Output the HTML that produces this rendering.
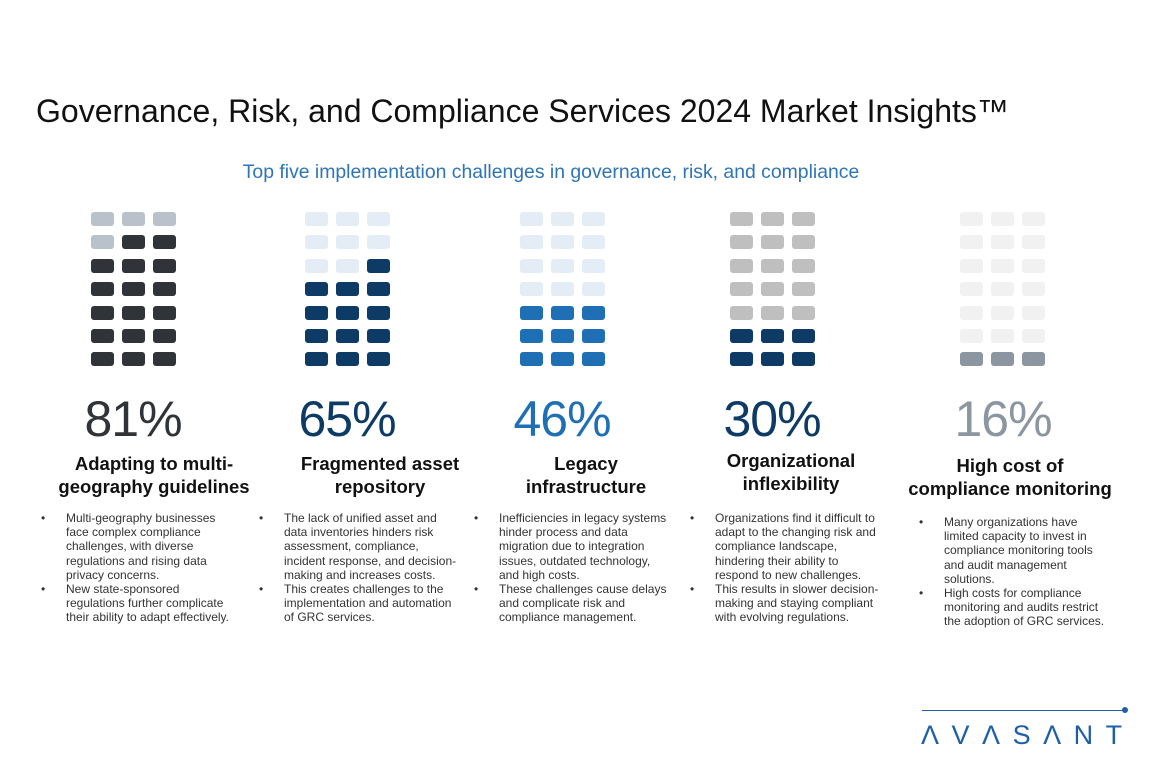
<!DOCTYPE html>
<html><head><meta charset="utf-8"><style>
body{margin:0;width:1152px;height:768px;background:#fff;position:relative;overflow:hidden;font-family:"Liberation Sans",sans-serif;}
.a{position:absolute;}
.g{position:absolute;top:212px;display:grid;grid-template-columns:23px 23px 23px;column-gap:8px;row-gap:9.4px;}
.g span{height:14px;border-radius:3px;display:block;}
.pct{position:absolute;top:390px;width:200px;text-align:center;font-size:50px;font-weight:300;letter-spacing:-1px;}
.tt{position:absolute;width:240px;text-align:center;font-weight:bold;font-size:18.5px;line-height:23px;color:#111;}
.b{position:absolute;font-size:12px;line-height:14.2px;color:#333;white-space:nowrap;}
.b div{position:relative;}
.b div:before{content:"•";position:absolute;left:-25px;}
</style></head><body>
<div class="a" style="left:36px;top:93px;font-size:32px;color:#111;">Governance, Risk, and Compliance Services 2024 Market Insights™</div>
<div class="a" style="left:0;width:1102px;top:161px;text-align:center;font-size:19.4px;color:#2e75b6;">Top five implementation challenges in governance, risk, and compliance</div>

<div class="g" style="left:91px"><span style="background:#b9c2ca"></span><span style="background:#b9c2ca"></span><span style="background:#b9c2ca"></span><span style="background:#b9c2ca"></span>
<span style="background:#303438"></span><span style="background:#303438"></span><span style="background:#303438"></span><span style="background:#303438"></span><span style="background:#303438"></span><span style="background:#303438"></span><span style="background:#303438"></span><span style="background:#303438"></span><span style="background:#303438"></span><span style="background:#303438"></span><span style="background:#303438"></span><span style="background:#303438"></span><span style="background:#303438"></span><span style="background:#303438"></span><span style="background:#303438"></span><span style="background:#303438"></span><span style="background:#303438"></span></div>

<div class="g" style="left:305px"><span style="background:#e4edf6"></span><span style="background:#e4edf6"></span><span style="background:#e4edf6"></span><span style="background:#e4edf6"></span><span style="background:#e4edf6"></span><span style="background:#e4edf6"></span><span style="background:#e4edf6"></span><span style="background:#e4edf6"></span>
<span style="background:#0d3b66"></span><span style="background:#0d3b66"></span><span style="background:#0d3b66"></span><span style="background:#0d3b66"></span><span style="background:#0d3b66"></span><span style="background:#0d3b66"></span><span style="background:#0d3b66"></span><span style="background:#0d3b66"></span><span style="background:#0d3b66"></span><span style="background:#0d3b66"></span><span style="background:#0d3b66"></span><span style="background:#0d3b66"></span><span style="background:#0d3b66"></span></div>

<div class="g" style="left:520px"><span style="background:#e4edf6"></span><span style="background:#e4edf6"></span><span style="background:#e4edf6"></span><span style="background:#e4edf6"></span><span style="background:#e4edf6"></span><span style="background:#e4edf6"></span><span style="background:#e4edf6"></span><span style="background:#e4edf6"></span><span style="background:#e4edf6"></span><span style="background:#e4edf6"></span><span style="background:#e4edf6"></span><span style="background:#e4edf6"></span>
<span style="background:#1f6fb5"></span><span style="background:#1f6fb5"></span><span style="background:#1f6fb5"></span><span style="background:#1f6fb5"></span><span style="background:#1f6fb5"></span><span style="background:#1f6fb5"></span><span style="background:#1f6fb5"></span><span style="background:#1f6fb5"></span><span style="background:#1f6fb5"></span></div>

<div class="g" style="left:730px"><span style="background:#bfbfbf"></span><span style="background:#bfbfbf"></span><span style="background:#bfbfbf"></span><span style="background:#bfbfbf"></span><span style="background:#bfbfbf"></span><span style="background:#bfbfbf"></span><span style="background:#bfbfbf"></span><span style="background:#bfbfbf"></span><span style="background:#bfbfbf"></span><span style="background:#bfbfbf"></span><span style="background:#bfbfbf"></span><span style="background:#bfbfbf"></span><span style="background:#bfbfbf"></span><span style="background:#bfbfbf"></span><span style="background:#bfbfbf"></span>
<span style="background:#0d3b66"></span><span style="background:#0d3b66"></span><span style="background:#0d3b66"></span><span style="background:#0d3b66"></span><span style="background:#0d3b66"></span><span style="background:#0d3b66"></span></div>

<div class="g" style="left:960px"><span style="background:#f1f1f1"></span><span style="background:#f1f1f1"></span><span style="background:#f1f1f1"></span><span style="background:#f1f1f1"></span><span style="background:#f1f1f1"></span><span style="background:#f1f1f1"></span><span style="background:#f1f1f1"></span><span style="background:#f1f1f1"></span><span style="background:#f1f1f1"></span><span style="background:#f1f1f1"></span><span style="background:#f1f1f1"></span><span style="background:#f1f1f1"></span><span style="background:#f1f1f1"></span><span style="background:#f1f1f1"></span><span style="background:#f1f1f1"></span><span style="background:#f1f1f1"></span><span style="background:#f1f1f1"></span><span style="background:#f1f1f1"></span>
<span style="background:#8c96a0"></span><span style="background:#8c96a0"></span><span style="background:#8c96a0"></span></div>

<div class="pct" style="left:33px;color:#303438">81%</div>
<div class="pct" style="left:247px;color:#0d3b66">65%</div>
<div class="pct" style="left:462px;color:#1f6fb5">46%</div>
<div class="pct" style="left:672px;color:#0d3b66">30%</div>
<div class="pct" style="left:903px;color:#8c96a0">16%</div>

<div class="tt" style="left:34px;top:452px">Adapting to multi-<br>geography guidelines</div>
<div class="tt" style="left:260px;top:452px">Fragmented asset<br>repository</div>
<div class="tt" style="left:466px;top:452px">Legacy<br>infrastructure</div>
<div class="tt" style="left:671px;top:449px">Organizational<br>inflexibility</div>
<div class="tt" style="left:890px;top:454px">High cost of<br>compliance monitoring</div>

<div class="b" style="left:66px;top:511px"><div>Multi-geography businesses<br>face complex compliance<br>challenges, with diverse<br>regulations and rising data<br>privacy concerns.</div><div>New state-sponsored<br>regulations further complicate<br>their ability to adapt effectively.</div></div>
<div class="b" style="left:284px;top:511px"><div>The lack of unified asset and<br>data inventories hinders risk<br>assessment, compliance,<br>incident response, and decision-<br>making and increases costs.</div><div>This creates challenges to the<br>implementation and automation<br>of GRC services.</div></div>
<div class="b" style="left:499px;top:511px"><div>Inefficiencies in legacy systems<br>hinder process and data<br>migration due to integration<br>issues, outdated technology,<br>and high costs.</div><div>These challenges cause delays<br>and complicate risk and<br>compliance management.</div></div>
<div class="b" style="left:715px;top:511px"><div>Organizations find it difficult to<br>adapt to the changing risk and<br>compliance landscape,<br>hindering their ability to<br>respond to new challenges.</div><div>This results in slower decision-<br>making and staying compliant<br>with evolving regulations.</div></div>
<div class="b" style="left:944px;top:515px"><div>Many organizations have<br>limited capacity to invest in<br>compliance monitoring tools<br>and audit management<br>solutions.</div><div>High costs for compliance<br>monitoring and audits restrict<br>the adoption of GRC services.</div></div>

<div class="a" style="left:922px;top:710px;width:202px;height:1px;background:#1f5fa8"></div>
<div class="a" style="left:1122px;top:707px;width:6px;height:6px;border-radius:3px;background:#1f5fa8"></div>
<div class="a" style="left:921px;top:720px;font-size:27px;letter-spacing:12.5px;color:#1f5fa8;font-weight:300;">ΛVΛSΛNT</div>
</body></html>
